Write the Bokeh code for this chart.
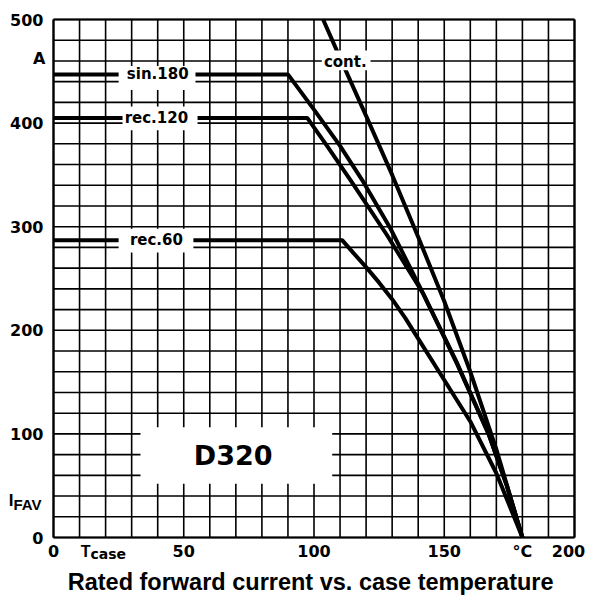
from bokeh.plotting import figure
from bokeh.models import BoxAnnotation
from bokeh.core.properties import value
from bokeh.embed import file_html
from bokeh.resources import INLINE

# ---- data ----
x_ticks = [0, 50, 100, 150, 180, 200]
x_tick_labels = ["0", "50", "100", "150", "°C", "200"]
y_ticks = [0, 100, 200, 300, 400, 500]
y_tick_labels = ["0", "100", "200", "300", "400", "500"]
x_grid = list(range(0, 201, 10))
y_grid = list(range(0, 501, 20))

sin180_x = [0, 90, 100, 110, 118.5, 129.4, 141, 155, 167, 174, 180]
sin180_y = [447, 447, 413, 378, 345, 298, 240, 168, 100, 50, 0]

rec120_x = [0, 97.4, 105, 114, 128, 142, 155, 167, 174, 180]
rec120_y = [405, 405, 378, 345, 292, 235, 167, 100, 50, 0]

rec60_x = [0, 110.8, 115, 120, 125, 130, 135, 140, 150, 160, 170, 180]
rec60_y = [287, 287, 275, 261, 246, 230, 212, 192, 152, 112, 62, 0]

cont_x = [103.5, 110, 120, 130, 140, 150, 160, 170, 180]
cont_y = [500, 463, 407, 350, 290, 228, 160, 85, 0]

series_labels = ["sin.180", "rec.120", "rec.60", "cont."]
title_text = "Rated forward current vs. case temperature"

# frame spans the whole canvas; data window chosen so that 0..200 / 0..500
# sits where the reference draws its grid
W, H = 585, 595
SX, SY = 2.605, 1.036
xs = -53 / SX
xe = xs + W / SX
ye = 500 + 19 / SY
ys = ye - H / SY

p = figure(width=W, height=H, x_range=(xs, xe), y_range=(ys, ye),
           x_axis_type=None, y_axis_type=None, min_border=0,
           output_backend="svg", toolbar_location=None)
p.grid.visible = False
p.outline_line_color = None
p.background_fill_color = "white"
p.border_fill_color = "white"

# grid
p.segment(x0=x_grid, y0=y_grid[0], x1=x_grid, y1=y_grid[-1],
          line_color="black", line_width=1.6)
p.segment(x0=x_grid[0], y0=y_grid, x1=x_grid[-1], y1=y_grid,
          line_color="black", line_width=1.6)
# frame
p.segment(x0=[x_grid[0], x_grid[-1]], y0=y_grid[0],
          x1=[x_grid[0], x_grid[-1]], y1=y_grid[-1],
          line_color="black", line_width=2.2)
p.segment(x0=x_grid[0], y0=[y_grid[0], y_grid[-1]],
          x1=x_grid[-1], y1=[y_grid[0], y_grid[-1]],
          line_color="black", line_width=2.2)

# curves
for cx, cy in ((sin180_x, sin180_y), (rec120_x, rec120_y),
               (rec60_x, rec60_y), (cont_x, cont_y)):
    p.line(cx, cy, line_color="black", line_width=4)

# white boxes that interrupt grid and curves
boxes = [(25, 54.5, 432, 455), (26.5, 55.3, 393, 416), (25, 53.7, 275, 298),
         (103, 121.7, 451, 470), (33.4, 107, 52, 106.5)]
for l, r, b, t in boxes:
    p.add_layout(BoxAnnotation(left=l, right=r, bottom=b, top=t,
                               fill_color="white", fill_alpha=1,
                               line_color=None, level="annotation"))


def txt(x, y, text, align="center", size="16px", font="DejaVu Sans",
        style="bold", baseline="middle", x_offset=0):
    if not isinstance(x, list):
        x, y, text = [x], [y], [text]
    p.text(x=x, y=y, text=text, text_align=align, text_baseline=baseline,
           text_font=value(font), text_font_style=style,
           text_font_size=value(size), text_color="black",
           x_offset=x_offset, level="overlay")


# series labels
label_pos = [(40, 447), (39.5, 405), (39.5, 287), (112, 459)]
txt([q[0] for q in label_pos], [q[1] for q in label_pos], series_labels,
    size="15px")
txt(69, 79, "D320", size="27px")

# tick labels (last one nudged inward so it stays on the canvas)
x_off = [0] * (len(x_ticks) - 1) + [-6]
txt(x_ticks, [-13.5] * len(x_ticks), x_tick_labels, x_offset=x_off)
txt([-3.84] * len(y_ticks), y_ticks, y_tick_labels, align="right")

# axis symbols
txt(-3.07, 462, "A", align="right")
txt(-15.35, 35.7, "I", align="right", size="17px", font="Liberation Sans")
txt(-15.35, 31.9, "FAV", align="left", size="15px", font="Liberation Sans")
txt(14.2, -13.5, "T", align="right", size="16px", font="Liberation Sans")
txt(14.2, -16, "case", align="left", size="14px")

# title
txt(98.7, -42.5, title_text, size="23.5px", font="Liberation Sans")

open("out.html", "w").write(file_html(p, INLINE))
